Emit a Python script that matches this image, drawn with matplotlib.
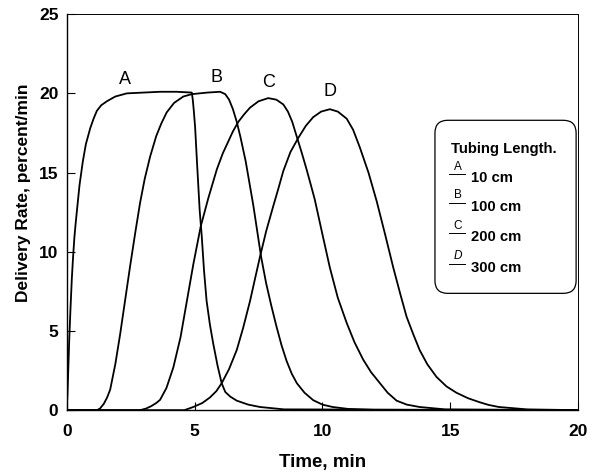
import matplotlib
matplotlib.use("Agg")
import matplotlib.pyplot as plt
from matplotlib.patches import FancyBboxPatch

plt.rcParams['font.family'] = ['Liberation Sans', 'DejaVu Sans']

# ---- data (time in min, delivery rate in percent/min) ----
a_time = [0, 0.03, 0.06, 0.1, 0.15, 0.2, 0.25, 0.3, 0.35, 0.4, 0.5, 0.63, 0.75,
          0.92, 1.05, 1.18, 1.35, 1.57, 1.9, 2.35, 3.0, 3.65, 4.3, 4.89, 4.93,
          4.97, 5.02, 5.1, 5.2, 5.28, 5.37, 5.47, 5.6, 5.73, 5.9, 6.06, 6.2,
          6.4, 6.65, 7.1, 7.56, 8.5, 20]
a_rate = [0, 1.0, 2.5, 4.5, 6.5, 8.3, 9.7, 10.9, 11.8, 12.6, 14.2, 15.7, 16.8,
          17.8, 18.4, 18.9, 19.25, 19.5, 19.8, 20.0, 20.05, 20.1, 20.1, 20.05, 19.6,
          18.9, 17.9, 15.5, 12.6, 11.0, 8.8, 6.9, 5.4, 4.2, 2.8, 1.7, 1.15,
          0.85, 0.6, 0.35, 0.2, 0.05, 0]

b_time = [0, 1.18, 1.3, 1.45, 1.58, 1.7, 1.9, 2.09, 2.28, 2.48, 2.68, 2.87, 3.05,
          3.26, 3.5, 3.7, 3.91, 4.2, 4.56, 4.89, 5.5, 6.0, 6.2, 6.35, 6.5, 6.65,
          6.8, 7.0, 7.15, 7.3, 7.45, 7.6, 7.8, 8.0, 8.2, 8.4, 8.6, 8.8, 9.0,
          9.3, 9.64, 10.0, 10.4, 11.0, 12.0, 20]
b_rate = [0, 0, 0.1, 0.4, 0.8, 1.3, 2.9, 4.8, 6.9, 9.1, 11.2, 13.1, 14.6,
          16.0, 17.3, 18.1, 18.8, 19.4, 19.8, 19.95, 20.05, 20.1, 19.95, 19.6, 19.0, 18.2,
          17.2, 15.7, 14.3, 12.9, 11.3, 9.7, 8.0, 6.6, 5.3, 4.1, 3.1, 2.3, 1.7,
          1.1, 0.63, 0.35, 0.2, 0.08, 0.02, 0]

c_time = [0, 2.87, 3.1, 3.3, 3.5, 3.65, 3.9, 4.17, 4.45, 4.7, 4.95, 5.24, 5.54,
          5.87, 6.1, 6.3, 6.5, 6.71, 6.95, 7.17, 7.5, 7.88, 8.2, 8.47, 8.65,
          8.82, 8.99, 9.2, 9.38, 9.55, 9.7, 10.0, 10.29, 10.6, 10.95, 11.25,
          11.59, 11.9, 12.25, 12.55, 12.9, 13.3, 13.8, 14.8, 20]
c_rate = [0, 0, 0.1, 0.25, 0.45, 0.65, 1.4, 2.7, 4.6, 6.9, 9.2, 11.6, 13.4,
          15.2, 16.2, 16.9, 17.6, 18.2, 18.7, 19.1, 19.5, 19.7, 19.6, 19.3, 18.85,
          18.2, 17.3, 16.2, 15.2, 14.2, 13.3, 11.1, 9.0, 7.1, 5.5, 4.3,
          3.2, 2.4, 1.7, 1.1, 0.6, 0.35, 0.2, 0.05, 0]

d_time = [0, 4.6, 4.95, 5.3, 5.6, 5.85, 6.06, 6.35, 6.65, 6.9, 7.17, 7.35, 7.56,
          7.8, 8.08, 8.27, 8.47, 8.75, 9.06, 9.35, 9.64, 9.95, 10.29, 10.6,
          10.95, 11.2, 11.46, 11.8, 12.12, 12.45, 12.77, 13.05, 13.29, 13.55,
          13.8, 14.1, 14.46, 14.85, 15.24, 15.7, 16.15, 16.5, 16.9, 18, 20]
d_rate = [0, 0, 0.2, 0.45, 0.8, 1.2, 1.7, 2.6, 3.8, 5.2, 6.9, 8.2, 9.7,
          11.3, 12.9, 13.95, 15.1, 16.3, 17.2, 17.95, 18.5, 18.85, 19.0, 18.85,
          18.4, 17.7, 16.6, 15.0, 13.2, 11.1, 9.0, 7.3, 5.9, 4.8,
          3.8, 2.9, 2.1, 1.5, 1.1, 0.75, 0.5, 0.33, 0.2, 0.05, 0]

curve_names = ['A', 'B', 'C', 'D']
label_time = [2.29, 5.87, 7.88, 10.29]
label_rate = [20.9, 21.0, 20.7, 20.1]
tubing_lengths = ['10 cm', '100 cm', '200 cm', '300 cm']

x_ticks = [0, 5, 10, 15, 20]
y_ticks = [0, 5, 10, 15, 20, 25]

# ---- figure ----
fig = plt.figure(figsize=(6.01, 4.72), dpi=100)
ax = fig.add_axes([0.111, 0.131, 0.851, 0.839])

for t, r in zip([a_time, b_time, c_time, d_time], [a_rate, b_rate, c_rate, d_rate]):
    ax.plot(t, r, color='black', lw=1.3, solid_joinstyle='round')

for name, t, r in zip(curve_names, label_time, label_rate):
    ax.text(t, r, name, fontsize=13, ha='center', va='center')

ax.set_xlim(0, 20)
ax.set_ylim(0, 25)
ax.set_xticks(x_ticks)
ax.set_yticks(y_ticks)
ax.tick_params(direction='in', length=5.5, width=0.8, labelsize=12.5)
ax.tick_params(axis='x', pad=10)
ax.tick_params(axis='y', pad=6)
for lab in ax.get_xticklabels() + ax.get_yticklabels():
    lab.set_fontweight('bold')

for side in ['top', 'right']:
    ax.spines[side].set_linewidth(0.7)
for side in ['left', 'bottom']:
    ax.spines[side].set_linewidth(1.0)

ax.set_xlabel('Time, min', fontsize=13.5, fontweight='bold')
ax.set_ylabel('Delivery Rate, percent/min', fontsize=12.5, fontweight='bold')
ax.xaxis.set_label_coords(0.5, -0.131)
ax.yaxis.set_label_coords(-0.085, 0.55)
ax.xaxis.label.set_va('center')
ax.yaxis.label.set_va('center')

# ---- hand-drawn style legend box ----
box = FancyBboxPatch((0.72, 0.295), 0.276, 0.437, transform=ax.transAxes,
                     boxstyle='round,pad=0,rounding_size=0.025',
                     mutation_aspect=1.29, fc='white', ec='black', lw=0.9)
ax.add_patch(box)
ax.text(0.752, 0.659, 'Tubing Length.', transform=ax.transAxes, fontsize=10.7,
        fontweight='bold', va='center', ha='left')
entry_y = [0.588, 0.515, 0.439, 0.361]
for name, length, y in zip(curve_names, tubing_lengths, entry_y):
    ax.plot([0.748, 0.779], [y + 0.009, y + 0.009], transform=ax.transAxes,
            color='black', lw=0.7)
    ax.text(0.764, y + 0.012, name, transform=ax.transAxes, fontsize=8.5,
            ha='center', va='bottom', style='italic' if name == 'D' else 'normal')
    ax.text(0.790, y - 0.002, length, transform=ax.transAxes, fontsize=10.7,
            fontweight='bold', va='center', ha='left')

fig.savefig('out.png', dpi=100)
